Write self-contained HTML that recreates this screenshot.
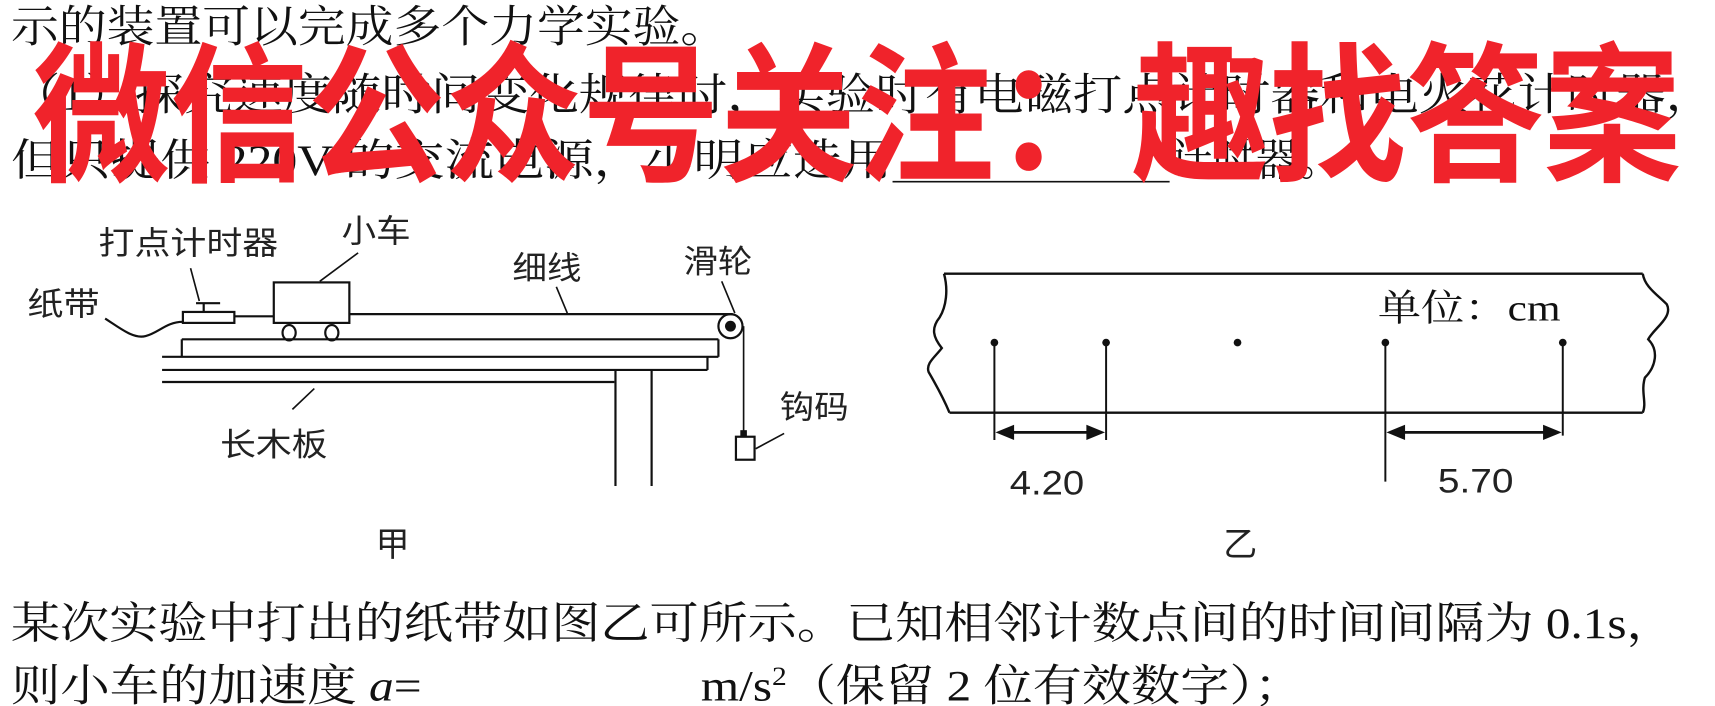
<!DOCTYPE html>
<html><head><meta charset="utf-8"><style>
html,body{margin:0;padding:0;background:#fff;}
svg{display:block;}
.s{font-family:"Liberation Serif","Noto Serif CJK SC",serif;fill:#111;}
.l{font-family:"Liberation Sans","Noto Sans CJK SC",sans-serif;fill:#222;}
</style></head><body>
<svg width="1715" height="706" viewBox="0 0 1566 645" preserveAspectRatio="none" xmlns="http://www.w3.org/2000/svg">
<rect width="1566" height="645" fill="#fff"/>
<g class="s" font-size="40">
<text x="10" y="38" textLength="655" lengthAdjust="spacingAndGlyphs">示的装置可以完成多个力学实验。</text>
<text x="10" y="100" textLength="1556" lengthAdjust="spacingAndGlyphs">（1）探究速度随时间变化规律时，实验时有电磁打点计时器和电火花计时器，</text>
<text x="10" y="160" textLength="805" lengthAdjust="spacingAndGlyphs">但只提供 220V 的交流电源，小明应选用</text>
<text x="1068" y="160" textLength="157" lengthAdjust="spacingAndGlyphs">计时器。</text>
<text x="10" y="583" textLength="1520" lengthAdjust="spacingAndGlyphs">某次实验中打出的纸带如图乙可所示。已知相邻计数点间的时间间隔为 0.1s，</text>
<text x="10" y="640" textLength="375" lengthAdjust="spacingAndGlyphs">则小车的加速度 <tspan font-style="italic">a</tspan>=</text>
<text x="640" y="640" textLength="550" lengthAdjust="spacingAndGlyphs">m/s<tspan font-size="24" dy="-14">2</tspan><tspan dy="14">（保留 2 位有效数字）；</tspan></text>
</g>
<line x1="815" y1="166" x2="1068" y2="166" stroke="#111" stroke-width="1.5"/>
<text x="30" y="155" font-size="138" font-weight="bold" fill="#f0232b" font-family="'Noto Sans CJK SC','WenQuanYi Zen Hei',sans-serif" textLength="1505" lengthAdjust="spacingAndGlyphs">微信公众号关注：趣找答案</text>

<g stroke="#111" stroke-width="2" fill="none">
<!-- board -->
<line x1="166" y1="310" x2="656" y2="310"/>
<line x1="148" y1="326" x2="656" y2="326"/>
<line x1="148" y1="338" x2="646" y2="338"/>
<line x1="148" y1="349" x2="561" y2="349"/>
<line x1="166" y1="310" x2="166" y2="326"/>
<line x1="656" y1="310" x2="656" y2="326"/>
<line x1="646" y1="326" x2="646" y2="338"/>
<line x1="562" y1="338" x2="562" y2="444"/>
<line x1="595" y1="338" x2="595" y2="444"/>
<!-- car -->
<rect x="250" y="258" width="69" height="37"/>
<ellipse cx="264" cy="304" rx="6" ry="7"/>
<ellipse cx="303" cy="304" rx="6" ry="7"/>
<line x1="319" y1="287" x2="669" y2="287"/>
<!-- timer -->
<rect x="167" y="285" width="47" height="10"/>
<line x1="179" y1="277" x2="201" y2="277"/>
<line x1="186" y1="277" x2="186" y2="285"/>
<line x1="214" y1="289" x2="250" y2="289"/>
<path d="M96 291 C110 300,122 310,133 307 C145 304,152 294,167 294"/>
<!-- pulley -->
<circle cx="667" cy="298" r="11"/>
<line x1="679" y1="298" x2="679" y2="399" stroke-width="1.5"/>
<rect x="672" y="399" width="17" height="21"/>
<!-- leaders -->
<line x1="174" y1="245" x2="182" y2="275" stroke-width="1.5"/>
<line x1="292" y1="257" x2="327" y2="231" stroke-width="1.5"/>
<line x1="508" y1="262" x2="518" y2="286" stroke-width="1.5"/>
<line x1="659" y1="257" x2="671" y2="286" stroke-width="1.5"/>
<line x1="287" y1="355" x2="267" y2="374" stroke-width="1.5"/>
<line x1="690" y1="410" x2="716" y2="396" stroke-width="1.5"/>
</g>
<circle cx="667" cy="298" r="5" fill="#111"/>
<rect x="676" y="393" width="6" height="6" fill="#111"/>
<g class="l" font-size="29">
<text x="90" y="232" textLength="164" lengthAdjust="spacingAndGlyphs">打点计时器</text>
<text x="312" y="221" textLength="63" lengthAdjust="spacingAndGlyphs">小车</text>
<text x="468" y="255" textLength="63" lengthAdjust="spacingAndGlyphs">细线</text>
<text x="624" y="249" textLength="63" lengthAdjust="spacingAndGlyphs">滑轮</text>
<text x="25" y="288" textLength="66" lengthAdjust="spacingAndGlyphs">纸带</text>
<text x="712" y="382" textLength="63" lengthAdjust="spacingAndGlyphs">钩码</text>
<text x="201" y="416" textLength="98" lengthAdjust="spacingAndGlyphs">长木板</text>
<text x="343" y="508" font-size="31">甲</text>
<text x="1117" y="508" font-size="31">乙</text>
<text x="922" y="452" font-size="31" textLength="68" lengthAdjust="spacingAndGlyphs">4.20</text>
<text x="1313" y="450" font-size="31" textLength="69" lengthAdjust="spacingAndGlyphs">5.70</text>
</g>
<text class="s" x="1258" y="293" font-size="34" textLength="167" lengthAdjust="spacingAndGlyphs">单位：cm</text>

<!-- tape -->
<g stroke="#111" stroke-width="2.2" fill="none">
<line x1="862" y1="250" x2="1500" y2="250"/>
<line x1="867" y1="377" x2="1500" y2="377"/>
<path d="M862 250 C866 265,864 280,858 290 C850 300,852 308,860 318 C854 326,845 332,848 340 C855 352,862 365,867 377"/>
<path d="M1500 250 C1502 262,1512 268,1522 278 C1528 290,1510 300,1505 310 C1515 320,1512 335,1502 345 C1498 358,1504 368,1500 377"/>
</g>
<g stroke="#111" stroke-width="1.8">
<line x1="908" y1="313" x2="908" y2="402"/>
<line x1="1010" y1="313" x2="1010" y2="402"/>
<line x1="1265" y1="313" x2="1265" y2="440"/>
<line x1="1427" y1="313" x2="1427" y2="398"/>
<line x1="918" y1="395" x2="1000" y2="395" stroke-width="2.5"/>
<line x1="1275" y1="395" x2="1417" y2="395" stroke-width="2.5"/>
</g>
<g fill="#111">
<circle cx="908" cy="313" r="3.5"/><circle cx="1010" cy="313" r="3.5"/><circle cx="1130" cy="313" r="3.5"/><circle cx="1265" cy="313" r="3.5"/><circle cx="1427" cy="313" r="3.5"/>
<polygon points="909,395 926,388 926,402"/>
<polygon points="1009,395 992,388 992,402"/>
<polygon points="1266,395 1283,388 1283,402"/>
<polygon points="1426,395 1409,388 1409,402"/>
</g>
</svg>
</body></html>
